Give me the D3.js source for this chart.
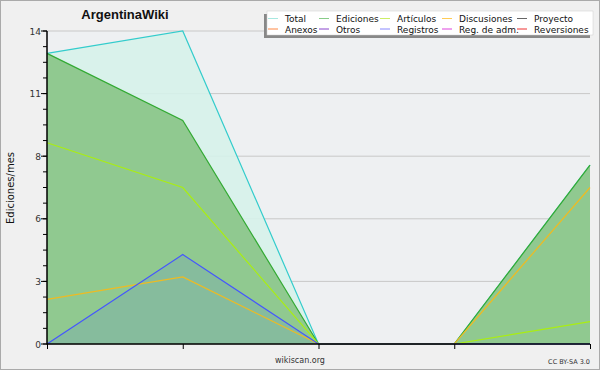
<!DOCTYPE html>
<html><head><meta charset="utf-8">
<script src="https://cdn.jsdelivr.net/npm/d3@7"></script>
<style>body{margin:0;background:#f0f0f0}svg{display:block}text{font-family:"DejaVu Sans",sans-serif}</style>
</head><body><svg id="c" width="600" height="370"></svg>
<script>
const categories = ["1","2","3","4","5"];
const total      = [13, 14, 0, 0, 8];
const ediciones  = [13, 10, 0, 0, 8];
const articulos  = [9, 7, 0, 0, 1];
const discusiones= [2, 3, 0, 0, 7];
const registros  = [0, 4, 0, 0, 0];
const yTicks = [0, 2.8, 5.6, 8.4, 11.2, 14];
const yTickLabels = ["0","3","6","8","11","14"];
const legendNames = ["Total","Ediciones","Artículos","Discusiones","Proyecto","Anexos","Otros","Registros","Reg. de adm.","Reversiones"];
const legendColors = ["#a8e8e0","#88cc88","#ccee66","#ffcc55","#666666","#ff8844","#8844cc","#8888ff","#dd44dd","#ee3333"];

const svg = d3.select("#c");
const W=600,H=370, L=47, R=590, T=31, B=344;
svg.append("rect").attr("x",0.5).attr("y",0.5).attr("width",W-1).attr("height",H-1).attr("fill","#f0f0f0").attr("stroke","#aaaaaa");
svg.append("rect").attr("x",L).attr("y",T).attr("width",R-L).attr("height",B-T).attr("fill","#eef0f2");

const x = d3.scalePoint().domain(categories).range([L,R]);
const y = d3.scaleLinear().domain([0,14]).range([B,T]);

// grid
svg.append("g").selectAll("line").data(yTicks).join("line")
  .attr("x1",L).attr("x2",R).attr("y1",d=>y(d)).attr("y2",d=>y(d))
  .attr("stroke","#c8c8c8").attr("stroke-width",1);

const area = d3.area().x((d,i)=>x(categories[i])).y0(y(0)).y1(d=>y(d));
const line = d3.line().x((d,i)=>x(categories[i])).y(d=>y(d));

svg.append("path").datum(total).attr("d",area).attr("fill","#d6f2ea").attr("fill-opacity",0.9);
svg.append("path").datum(total).attr("d",line).attr("fill","none").attr("stroke","#33cccc").attr("stroke-width",1.2);
svg.append("path").datum(ediciones).attr("d",area).attr("fill","#90c990");
svg.append("path").datum(ediciones).attr("d",line).attr("fill","none").attr("stroke","#33aa33").attr("stroke-width",1.2);
svg.append("path").datum(registros).attr("d",area).attr("fill","#4466ff").attr("fill-opacity",0.12);
svg.append("path").datum(articulos).attr("d",line).attr("fill","none").attr("stroke","#aaee11").attr("stroke-width",1.2);
svg.append("path").datum(discusiones).attr("d",line).attr("fill","none").attr("stroke","#eebb22").attr("stroke-width",1.2);
svg.append("path").datum(registros).attr("d",line).attr("fill","none").attr("stroke","#4455ff").attr("stroke-width",1.2);

// y axis
const minor = d3.range(0,14.01,0.7);
const ya = svg.append("g");
ya.selectAll("line.mi").data(minor).join("line").attr("x1",L-4).attr("x2",L).attr("y1",d=>y(d)).attr("y2",d=>y(d)).attr("stroke","#000");
ya.selectAll("line.ma").data(yTicks).join("line").attr("x1",L-6).attr("x2",L).attr("y1",d=>y(d)).attr("y2",d=>y(d)).attr("stroke","#000");
ya.selectAll("text").data(yTicks).join("text").attr("x",L-6).attr("y",d=>y(d)+3.5).attr("text-anchor","end")
  .attr("font-size",9).attr("fill","#333").text((d,i)=>yTickLabels[i]);
ya.append("line").attr("x1",L).attr("x2",L).attr("y1",T).attr("y2",B+0.5).attr("stroke","#000").attr("stroke-width",1.5);

// x axis
const xa = svg.append("g").attr("transform",`translate(0,${B})`)
  .call(d3.axisBottom(x).tickSize(5).tickFormat(""));
xa.select(".domain").remove();
xa.selectAll("line").attr("stroke","#000");
svg.append("line").attr("x1",L).attr("x2",R).attr("y1",B).attr("y2",B).attr("stroke","#000").attr("stroke-width",1.5);

// labels
svg.append("text").attr("x",125).attr("y",19).attr("text-anchor","middle")
  .style("font-family","'Liberation Sans',Arial,sans-serif").attr("font-weight","bold").attr("font-size",13).attr("fill","#111").text("ArgentinaWiki");
svg.append("text").attr("transform","translate(14,188) rotate(-90)").attr("text-anchor","middle").attr("font-size",10).attr("fill","#111").text("Ediciones/mes");
svg.append("text").attr("x",300).attr("y",363).attr("text-anchor","middle").attr("font-size",8).attr("fill","#333").text("wikiscan.org");
svg.append("text").attr("x",590).attr("y",364).attr("text-anchor","end").attr("font-size",6.5).attr("fill","#333").text("CC BY-SA 3.0");

// legend
const lg = svg.append("g");
lg.append("rect").attr("x",264).attr("y",14).attr("width",326).attr("height",24).attr("fill","#888");
lg.append("rect").attr("x",267).attr("y",11).attr("width",326).attr("height",24).attr("fill","#fff").attr("stroke","#ccc").attr("stroke-width",0.5);
const colX = [268,319,380,442,517];
legendNames.forEach((n,i)=>{
  const c=i%5, r=Math.floor(i/5);
  const yy = 18.5 + r*10.5;
  lg.append("line").attr("x1",colX[c]).attr("x2",colX[c]+10).attr("y1",yy).attr("y2",yy).attr("stroke",legendColors[i]).attr("stroke-width",1);
  lg.append("text").attr("x",colX[c]+17).attr("y",yy+3.5).attr("font-size",9).attr("fill","#111").text(n);
});
</script></body></html>
